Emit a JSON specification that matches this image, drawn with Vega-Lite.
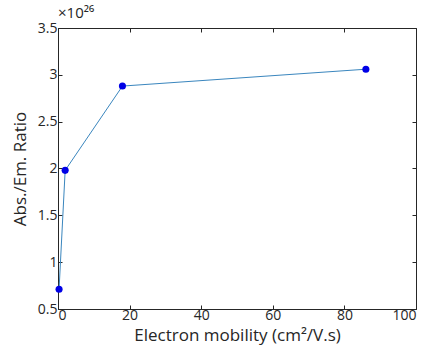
{
  "$schema": "https://vega.github.io/schema/vega-lite/v6.json",
  "autosize": "none",
  "width": 358,
  "height": 281,
  "padding": {"left": 58, "top": 28, "right": 18, "bottom": 37},
  "background": "white",
  "config": {
    "font": "Open Sans",
    "view": {"stroke": "#262626", "strokeWidth": 1},
    "axis": {
      "domainColor": "#262626",
      "tickColor": "#262626",
      "labelColor": "#262626",
      "titleColor": "#262626",
      "labelFont": "Open Sans",
      "titleFont": "Open Sans",
      "labelFontSize": 14,
      "titleFontSize": 17,
      "titleFontWeight": "normal",
      "tickSize": -4,
      "grid": false
    }
  },
  "title": {
    "text": "×10²⁶",
    "anchor": "start",
    "frame": "group",
    "fontSize": 15,
    "fontWeight": "normal",
    "color": "#262626",
    "font": "Open Sans",
    "offset": 0
  },
  "data": {
    "values": [
      {"mobility": 0.3, "ratio": 0.71e26},
      {"mobility": 2.0, "ratio": 1.98e26},
      {"mobility": 18, "ratio": 2.88e26},
      {"mobility": 86, "ratio": 3.06e26}
    ]
  },
  "layer": [
    {
      "mark": {"type": "line", "color": "#3a86be", "strokeWidth": 1},
      "encoding": {
        "x": {
          "field": "mobility",
          "type": "quantitative",
          "scale": {"domain": [0, 100], "nice": false, "zero": false},
          "axis": {
            "title": "Electron mobility (cm²/V.s)",
            "values": [0, 20, 40, 60, 80, 100],
            "labelPadding": 3,
            "titlePadding": 5
          }
        },
        "y": {
          "field": "ratio",
          "type": "quantitative",
          "scale": {"domain": [0.5e26, 3.5e26], "nice": false, "zero": false},
          "axis": {
            "title": "Abs./Em. Ratio",
            "values": [0.5e26, 1e26, 1.5e26, 2e26, 2.5e26, 3e26, 3.5e26],
            "labelExpr": "format(datum.value / 1e26, '~g')",
            "labelPadding": 5,
            "titlePadding": 8
          }
        }
      }
    },
    {
      "mark": {"type": "point", "filled": true, "color": "#0000e6", "size": 50, "opacity": 1},
      "encoding": {
        "x": {
          "field": "mobility",
          "type": "quantitative",
          "scale": {"domain": [0, 100], "nice": false, "zero": false},
          "axis": {
            "orient": "top",
            "title": null,
            "labels": false,
            "domain": false,
            "values": [0, 20, 40, 60, 80, 100]
          }
        },
        "y": {
          "field": "ratio",
          "type": "quantitative",
          "scale": {"domain": [0.5e26, 3.5e26], "nice": false, "zero": false},
          "axis": {
            "orient": "right",
            "title": null,
            "labels": false,
            "domain": false,
            "values": [0.5e26, 1e26, 1.5e26, 2e26, 2.5e26, 3e26, 3.5e26]
          }
        }
      }
    }
  ],
  "resolve": {"axis": {"x": "independent", "y": "independent"}}
}
